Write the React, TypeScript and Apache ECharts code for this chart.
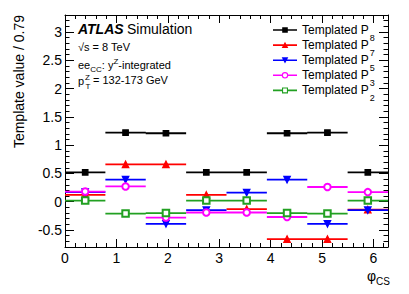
import React, { useEffect, useRef } from "react";
import * as echarts from "echarts";

const PI = Math.PI;
// bin edges in phi_CS (8 bins of width pi/4)
const binEdges = [0, PI / 4, PI / 2, (3 * PI) / 4, PI, (5 * PI) / 4, (3 * PI) / 2, (7 * PI) / 4, 2 * PI];

const seriesNames = ["Templated P8", "Templated P7", "Templated P5", "Templated P3", "Templated P2"];
const subscripts = ["8", "7", "5", "3", "2"];
const seriesColors = ["#000000", "#ff0000", "#0000ff", "#ff00ff", "#22a022"];
const seriesSymbols = ["rect", "triangle", "triangle", "emptyCircle", "emptyRect"];
const seriesRotate = [0, 0, 180, 0, 0];

const p8Values = [0.52, 1.22, 1.21, 0.52, 0.52, 1.21, 1.22, 0.52];
const p7Values = [0.12, 0.66, 0.66, 0.12, -0.13, -0.66, -0.66, -0.14];
const p5Values = [0.17, 0.39, -0.39, -0.15, 0.16, 0.39, -0.39, -0.15];
const p3Values = [0.18, 0.27, -0.28, -0.19, -0.19, -0.27, 0.26, 0.17];
const p2Values = [0.02, -0.21, -0.2, 0.02, 0.02, -0.2, -0.21, 0.02];
const allValues = [p8Values, p7Values, p5Values, p3Values, p2Values];

const xMajorTicks = [0, 1, 2, 3, 4, 5, 6];
const xMinorTicks = Array.from({ length: 32 }, (_, i) => Math.round(i * 2) / 10);
const yMajorTicks = [-0.5, 0, 0.5, 1, 1.5, 2, 2.5, 3];
const yMinorTicks = Array.from({ length: 42 }, (_, i) => Math.round(i - 8) / 10);

const FONT = "Liberation Sans";

// legend icons (24 x 9 box): line + marker
const BOX = "M0 0h0.01v0.01h-0.01Z M23.99 8.99h0.01v0.01h-0.01Z ";
const LINE = "M0 3.7H24V5.3H0Z ";
const LINE_SPLIT = "M0 3.7H9V5.3H0Z M15 3.7H24V5.3H15Z ";
const legendIcons = [
  "path://" + BOX + LINE + "M9.2 1.7H14.8V7.3H9.2Z",
  "path://" + BOX + LINE + "M12 1.2L15.3 7.4H8.7Z",
  "path://" + BOX + LINE + "M8.7 1.6H15.3L12 7.8Z",
  "path://" + BOX + LINE_SPLIT + "M12 1.3A3.2 3.2 0 1 1 12 7.7A3.2 3.2 0 1 1 12 1.3Z M12 2.4A2.1 2.1 0 1 0 12 6.6A2.1 2.1 0 1 0 12 2.4Z",
  "path://" + BOX + LINE_SPLIT + "M9 1.5H15V7.5H9Z M10.1 2.6V6.4H13.9V2.6Z",
];

function buildData(values: number[]) {
  const out: any[] = [];
  values.forEach((v, i) => {
    const lo = binEdges[i];
    const hi = binEdges[i + 1];
    out.push({ value: [lo, v], symbol: "none" });
    out.push({ value: [(lo + hi) / 2, v] });
    out.push({ value: [hi, v], symbol: "none" });
    out.push({ value: ["-", "-"], symbol: "none" });
  });
  return out;
}

export default function App() {
  const ref = useRef<HTMLDivElement>(null);
  useEffect(() => {
    if (!ref.current) return;
    const chart = echarts.init(ref.current, null, { renderer: "svg" });
    const axisLine = { show: true, onZero: false, lineStyle: { color: "#000", width: 1 } };
    const noLine = { show: false, onZero: false };
    const xRange = { min: 0, max: 2 * PI, type: "value" as const, splitLine: { show: false } };
    const yRange = { min: -0.8, max: 3.3, type: "value" as const, splitLine: { show: false } };

    const subMap: Record<string, string> = {};
    seriesNames.forEach((n, i) => (subMap[n] = subscripts[i]));

    const option: any = {
      animation: false,
      backgroundColor: "#fff",
      grid: { left: 65, right: 21, top: 15, bottom: 47, containLabel: false },
      xAxis: [
        {
          ...xRange,
          position: "bottom",
          axisLine,
          axisTick: { show: true, inside: true, length: 8, customValues: xMajorTicks, lineStyle: { color: "#000" } },
          axisLabel: { show: true, customValues: xMajorTicks, margin: 4, fontSize: 14, color: "#000", fontFamily: FONT },
        },
        {
          ...xRange,
          position: "bottom",
          axisLine: noLine,
          axisTick: { show: true, inside: true, length: 4, customValues: xMinorTicks, lineStyle: { color: "#000" } },
          axisLabel: { show: false },
        },
        {
          ...xRange,
          position: "top",
          axisLine,
          axisTick: { show: true, inside: true, length: 8, customValues: xMajorTicks, lineStyle: { color: "#000" } },
          axisLabel: { show: false },
        },
        {
          ...xRange,
          position: "top",
          axisLine: noLine,
          axisTick: { show: true, inside: true, length: 4, customValues: xMinorTicks, lineStyle: { color: "#000" } },
          axisLabel: { show: false },
        },
      ],
      yAxis: [
        {
          ...yRange,
          position: "left",
          axisLine,
          axisTick: { show: true, inside: true, length: 9, customValues: yMajorTicks, lineStyle: { color: "#000" } },
          axisLabel: { show: true, customValues: yMajorTicks, margin: 3, fontSize: 14, color: "#000", fontFamily: FONT },
        },
        {
          ...yRange,
          position: "left",
          axisLine: noLine,
          axisTick: { show: true, inside: true, length: 4.5, customValues: yMinorTicks, lineStyle: { color: "#000" } },
          axisLabel: { show: false },
        },
        {
          ...yRange,
          position: "right",
          axisLine,
          axisTick: { show: true, inside: true, length: 9, customValues: yMajorTicks, lineStyle: { color: "#000" } },
          axisLabel: { show: false },
        },
        {
          ...yRange,
          position: "right",
          axisLine: noLine,
          axisTick: { show: true, inside: true, length: 4.5, customValues: yMinorTicks, lineStyle: { color: "#000" } },
          axisLabel: { show: false },
        },
      ],
      legend: {
        orient: "vertical",
        left: 273,
        top: 18,
        padding: 0,
        itemGap: -8.9,
        itemWidth: 24,
        itemHeight: 9,
        itemStyle: { borderWidth: 0 },
        data: seriesNames.map((name, i) => ({ name, icon: legendIcons[i] })),
        formatter: (name: string) => `{m|Templated P}{s|${subMap[name]}}`,
        textStyle: {
          fontFamily: FONT,
          fontSize: 12,
          color: "#000",
          rich: {
            m: { fontFamily: FONT, fontSize: 12, lineHeight: 14, color: "#000" },
            s: { fontFamily: FONT, fontSize: 9, lineHeight: 9, color: "#000", padding: [15, 0, 0, 1] },
          },
        },
      },
      graphic: [
        {
          type: "text",
          left: 78,
          top: 22,
          style: {
            text: "{a|ATLAS} {b|Simulation}",
            rich: {
              a: { fontFamily: FONT, fontSize: 14, fontWeight: "bold", fontStyle: "italic", fill: "#000" },
              b: { fontFamily: FONT, fontSize: 14, fill: "#000" },
            },
          },
        },
        {
          type: "text",
          left: 78,
          top: 41,
          style: { text: "√s = 8 TeV", fontFamily: FONT, fontSize: 11, fill: "#000" },
        },
        {
          type: "text",
          left: 78,
          top: 57,
          style: {
            text: "{n|ee}{sub|CC}{n|: y}{sup|Z}{n|-integrated}",
            rich: {
              n: { fontFamily: FONT, fontSize: 11, lineHeight: 13, fill: "#000" },
              sub: { fontFamily: FONT, fontSize: 8, lineHeight: 8, padding: [8, 0, 0, 0], fill: "#000" },
              sup: { fontFamily: FONT, fontSize: 8, lineHeight: 8, padding: [0, 0, 8, 0], fill: "#000" },
            },
          },
        },
        {
          type: "text",
          x: 78,
          y: 81,
          style: { text: "p", fontFamily: FONT, fontSize: 11, fill: "#000", verticalAlign: "middle" },
        },
        {
          type: "text",
          x: 85,
          y: 77,
          style: { text: "Z", fontFamily: FONT, fontSize: 8, fill: "#000", verticalAlign: "middle" },
        },
        {
          type: "text",
          x: 85.5,
          y: 86,
          style: { text: "T", fontFamily: FONT, fontSize: 8, fill: "#000", verticalAlign: "middle" },
        },
        {
          type: "text",
          x: 93,
          y: 80,
          style: { text: "= 132-173 GeV", fontFamily: FONT, fontSize: 11, fill: "#000", verticalAlign: "middle" },
        },
        {
          type: "text",
          x: 19,
          y: 15,
          rotation: PI / 2,
          style: {
            text: "Template value / 0.79",
            fontFamily: FONT,
            fontSize: 14,
            fill: "#000",
            align: "right",
            verticalAlign: "middle",
          },
        },
        {
          type: "text",
          x: 367,
          y: 268,
          style: {
            text: "{n|φ}{sub|CS}",
            rich: {
              n: { fontFamily: FONT, fontSize: 14, lineHeight: 16, fill: "#000" },
              sub: { fontFamily: FONT, fontSize: 10, lineHeight: 10, padding: [10, 0, 0, 0], fill: "#000" },
            },
          },
        },
      ],
      series: seriesNames.map((name, k) => ({
        name,
        type: "line",
        xAxisIndex: 0,
        yAxisIndex: 0,
        data: buildData(allValues[k]),
        connectNulls: false,
        symbol: seriesSymbols[k],
        symbolRotate: seriesRotate[k],
        symbolSize: seriesSymbols[k] === "rect" ? 5.5 : 6.5,
        showSymbol: true,
        lineStyle: { color: seriesColors[k], width: 1.8 },
        itemStyle: { color: seriesColors[k], borderWidth: 1.2, borderColor: seriesColors[k] },
        emphasis: { disabled: true },
        z: 2 + k,
      })),
    };
    chart.setOption(option);
    return () => chart.dispose();
  }, []);
  return <div ref={ref} style={{ width: 409, height: 294, margin: -8 }} />;
}
